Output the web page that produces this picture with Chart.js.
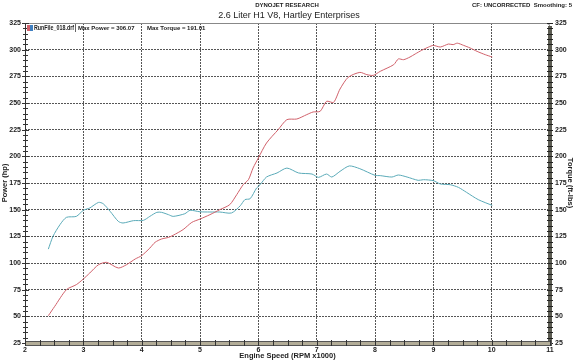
<!DOCTYPE html>
<html>
<head>
<meta charset="utf-8">
<script src="https://cdn.jsdelivr.net/npm/chart.js@4.4.0/dist/chart.umd.min.js"></script>
<style>
  html, body { margin: 0; padding: 0; background: #fff; }
  #wrap { width: 575px; height: 360px; }
</style>
</head>
<body>
<div id="wrap"><canvas id="dyno"></canvas></div>
<script>
// values
const powerRpm = [2.40, 2.51, 2.71, 2.88, 3.00, 3.11, 3.26, 3.40, 3.60, 3.74, 3.89, 4.00, 4.14, 4.23, 4.34, 4.46, 4.54, 4.71, 4.86, 5.00,
  5.17, 5.34, 5.51, 5.63, 5.74, 5.83, 5.91, 6.00, 6.14, 6.34, 6.49, 6.66, 6.83, 6.94, 7.06, 7.17, 7.29, 7.40, 7.54, 7.74,
  7.86, 7.97, 8.09, 8.32, 8.40, 8.49, 8.60, 8.69, 8.80, 8.92, 9.00, 9.12, 9.26, 9.34, 9.41, 9.52, 9.63, 9.75, 9.89, 10.01];
const powerHp = [50.6, 59.4, 75, 79.7, 85, 90.6, 98.4, 100.6, 95.3, 98.4, 103.8, 106.9, 114, 119.4, 122.5, 124, 126, 131.3, 138.1, 141.2,
  145.3, 150, 154.7, 164.1, 173.4, 178.1, 189.1, 198.4, 212.5, 225, 234.4, 235, 239.1, 241.6, 242.2, 251.6, 250.6, 263.1, 274.1, 278.7,
  276.6, 275.9, 279.7, 285.9, 291.3, 290.6, 293.1, 296, 299.4, 302.5, 304, 302.5, 305.3, 304.7, 306.1, 304, 301.6, 298.4, 295.3, 293.1];

const torqueRpm = [2.40, 2.48, 2.60, 2.71, 2.88, 3.00, 3.11, 3.26, 3.34, 3.46, 3.60, 3.68, 3.86, 4.03, 4.14, 4.26, 4.34, 4.46, 4.54, 4.74,
  4.83, 5.00, 5.17, 5.34, 5.54, 5.69, 5.77, 5.86, 5.97, 6.03, 6.14, 6.32, 6.49, 6.69, 6.92, 7.03, 7.17, 7.26, 7.40, 7.56,
  7.74, 8.00, 8.09, 8.29, 8.40, 8.55, 8.74, 8.83, 9.00, 9.12, 9.29, 9.43, 9.57, 9.77, 10.01];
const torqueLbft = [113, 125, 136, 142.8, 143.7, 149.4, 151.6, 156.8, 155.6, 148.4, 139, 137.5, 139.7, 140, 143.7, 147.5, 147.5, 145.3, 143.7, 146.2,
  149.4, 148, 147.8, 147.8, 146.9, 153.7, 159.4, 160.3, 170.3, 173.4, 180.6, 184.4, 189, 184.4, 183.4, 180.3, 183.4, 180.6, 185.9, 191,
  188.4, 182.2, 181.9, 180.6, 182.5, 180.6, 177.5, 178.1, 177.2, 174.1, 173.4, 170.9, 166.2, 159.4, 154];

const rpmTicks = [2, 3, 4, 5, 6, 7, 8, 9, 10, 11];
const valueTicks = [25, 50, 75, 100, 125, 150, 175, 200, 225, 250, 275, 300, 325];

const FONT = 'Liberation Sans';
const tickFont = { family: FONT, size: 7, weight: 'bold' };
const titleFont = { family: FONT, size: 7.5, weight: 'bold' };

function pts(xs, ys) {
  return xs.map((x, i) => ({ x: x, y: ys[i] }));
}

// hide the grid lines that sit on the frame
function innerGrid(ctx) {
  const v = ctx.tick && ctx.tick.value;
  if (v === 2 || v === 11 || v === 25 || v === 325) return 'rgba(0,0,0,0)';
  return '#555';
}

const dynoFrame = {
  id: 'dynoFrame',
  afterDraw(chart) {
    const c = chart.ctx;
    const a = chart.chartArea;
    const x = chart.scales.x, y = chart.scales.y;
    c.save();

    // top line + rounded corner
    c.strokeStyle = '#888';
    c.lineWidth = 1;
    c.beginPath();
    c.moveTo(a.left, a.top + 0.5);
    c.lineTo(a.right - 3, a.top + 0.5);
    c.quadraticCurveTo(a.right, a.top + 0.5, a.right, a.top + 4);
    c.stroke();

    // left axis line with ticks
    c.strokeStyle = '#333';
    c.beginPath();
    c.moveTo(a.left + 0.5, a.top);
    c.lineTo(a.left + 0.5, a.bottom);
    for (let v = 25; v <= 325; v += 5) {
      const py = Math.round(y.getPixelForValue(v)) + 0.5;
      const len = v % 25 === 0 ? 3 : 2;
      c.moveTo(a.left - len, py);
      c.lineTo(a.left + len + 1, py);
    }
    c.stroke();

    // right axis band
    c.fillStyle = '#5c5c52';
    c.fillRect(a.right - 2, a.top + 3, 4, a.bottom - a.top);
    c.strokeStyle = '#222';
    c.beginPath();
    for (let v = 25; v <= 325; v += 5) {
      const py = Math.round(y.getPixelForValue(v)) + 0.5;
      c.moveTo(a.right - 3, py);
      c.lineTo(a.right + 3, py);
    }
    c.stroke();

    // bottom axis band
    c.fillStyle = '#b3ad98';
    c.fillRect(a.left, a.bottom - 1, a.right - a.left + 2, 4);
    c.strokeStyle = '#555';
    c.strokeRect(a.left + 0.5, a.bottom - 1.5, a.right - a.left + 1, 4);
    c.strokeStyle = '#333';
    c.beginPath();
    for (let v = 2; v <= 11.001; v += 0.25) {
      const px = Math.round(x.getPixelForValue(v)) + 0.5;
      c.moveTo(px, a.bottom - 3);
      c.lineTo(px, a.bottom + 3);
    }
    c.stroke();

    // header texts
    c.fillStyle = '#222';
    c.textBaseline = 'middle';
    c.textAlign = 'center';
    c.font = 'bold 6px ' + FONT;
    c.fillText('DYNOJET RESEARCH', 287, 5);
    c.font = '9px ' + FONT;
    c.fillText('2.6 Liter H1 V8, Hartley Enterprises', 289, 16);
    c.textAlign = 'right';
    c.font = 'bold 6px ' + FONT;
    c.fillText('CF: UNCORRECTED  Smoothing: 5', 572, 5);

    // legend box inside the plot
    c.fillStyle = '#d0606a';
    c.fillRect(a.left + 2, a.top + 2, 3, 6);
    c.fillStyle = '#3f7fc0';
    c.fillRect(a.left + 5, a.top + 2, 3, 6);
    c.fillStyle = '#222';
    c.textAlign = 'left';
    c.font = 'bold 6.5px ' + FONT;
    c.fillText('RunFile_018.drf', a.left + 9, a.top + 5, 40);
    c.font = 'bold 6px ' + FONT;
    c.fillText('Max Power = 306.07', a.left + 53, a.top + 5, 58);
    c.fillText('Max Torque = 191.01', a.left + 122, a.top + 5, 62);
    c.strokeStyle = '#666';
    c.beginPath();
    c.moveTo(a.left + 50.5, a.top + 1);
    c.lineTo(a.left + 50.5, a.top + 9);
    c.stroke();

    c.restore();
  }
};

new Chart(document.getElementById('dyno').getContext('2d'), {
  type: 'line',
  data: {
    datasets: [
      {
        label: 'Power (hp)',
        data: pts(powerRpm, powerHp),
        borderColor: '#d0606a',
        borderWidth: 1,
        pointRadius: 0,
        tension: 0.25,
        yAxisID: 'y'
      },
      {
        label: 'Torque (ft-lbs)',
        data: pts(torqueRpm, torqueLbft),
        borderColor: '#5aaab8',
        borderWidth: 1,
        pointRadius: 0,
        tension: 0.25,
        yAxisID: 'y2'
      }
    ]
  },
  options: {
    responsive: true,
    maintainAspectRatio: false,
    animation: false,
    layout: { padding: { top: 23, left: 0, right: 0, bottom: 0 } },
    plugins: {
      legend: { display: false },
      tooltip: { enabled: false }
    },
    scales: {
      x: {
        type: 'linear',
        min: 2,
        max: 11,
        afterBuildTicks: s => { s.ticks = rpmTicks.map(v => ({ value: v })); },
        afterFit: s => { s.height = 17; },
        ticks: { font: tickFont, color: '#222', padding: 3, maxRotation: 0, autoSkip: false },
        grid: { color: innerGrid, lineWidth: 1, drawTicks: false },
        border: { display: false, dash: [2, 1] },
        title: { display: true, text: 'Engine Speed (RPM x1000)', font: titleFont, color: '#222', padding: 0 }
      },
      y: {
        position: 'left',
        min: 25,
        max: 325,
        afterBuildTicks: s => { s.ticks = valueTicks.map(v => ({ value: v })); },
        afterFit: s => { s.width = 25; },
        ticks: { font: tickFont, color: '#222', padding: 4, autoSkip: false },
        grid: { color: innerGrid, lineWidth: 1, drawTicks: false },
        border: { display: false, dash: [2, 1] },
        title: { display: true, text: 'Power (hp)', font: titleFont, color: '#222', padding: 0 }
      },
      y2: {
        position: 'right',
        min: 25,
        max: 325,
        afterBuildTicks: s => { s.ticks = valueTicks.map(v => ({ value: v })); },
        afterFit: s => { s.width = 25; },
        ticks: { font: tickFont, color: '#222', padding: 5, autoSkip: false },
        grid: { drawOnChartArea: false, drawTicks: false },
        border: { display: false },
        title: { display: true, text: 'Torque (ft-lbs)', font: titleFont, color: '#222', padding: 0 }
      }
    }
  },
  plugins: [dynoFrame]
});
</script>
</body>
</html>
